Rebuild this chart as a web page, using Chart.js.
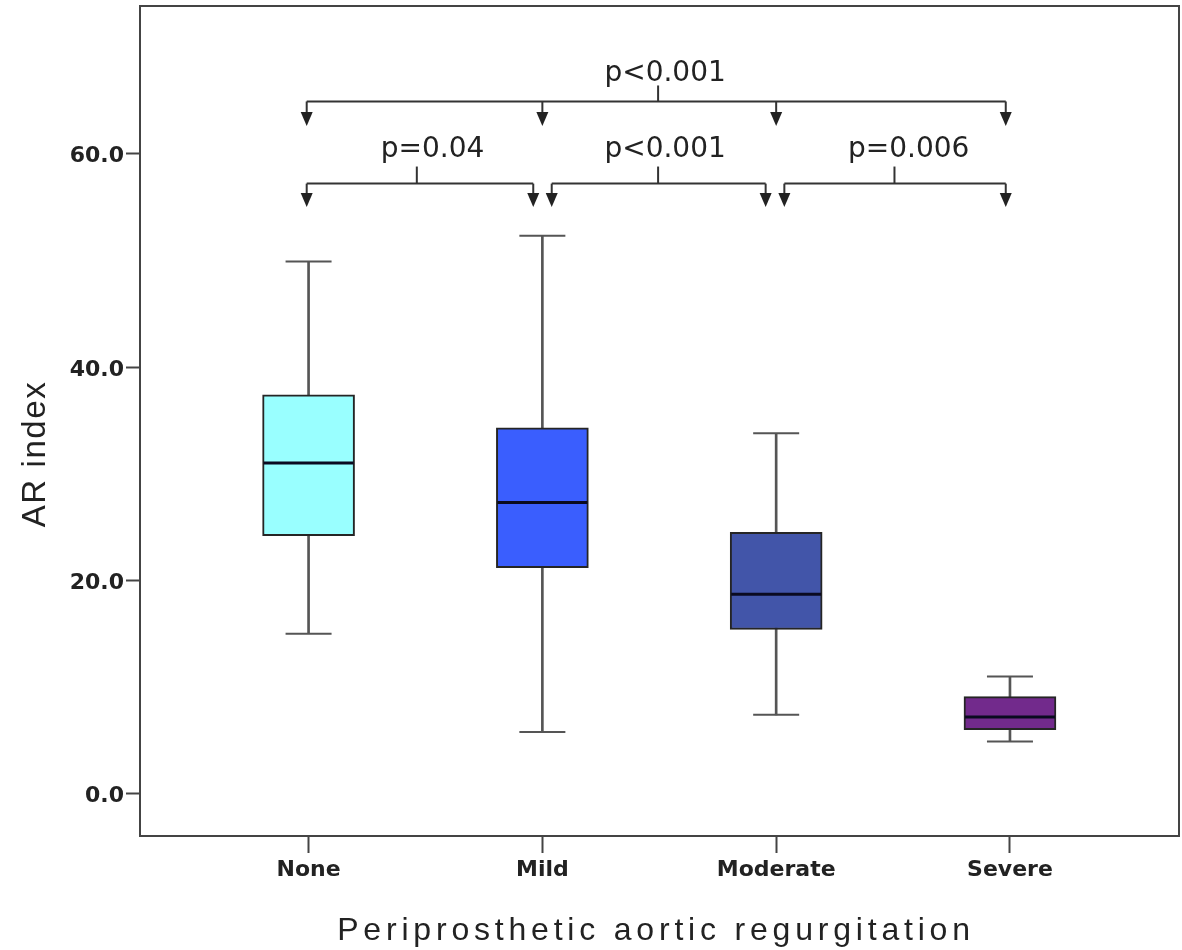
<!DOCTYPE html>
<html>
<head>
<meta charset="utf-8">
<title>AR index by periprosthetic aortic regurgitation</title>
<script src="https://cdn.jsdelivr.net/npm/chart.js@4/dist/chart.umd.min.js"></script>
<style>
  html, body { margin: 0; padding: 0; background: #fff; }
  #wrap { width: 1182px; height: 950px; position: relative; }
</style>
</head>
<body>
<div id="wrap"><canvas id="chart"></canvas></div>
<script>
// ---- Data ----
const categories = ["None", "Mild", "Moderate", "Severe"];
const whiskerLow = [15.0, 5.8, 7.4, 4.9];
const q1 = [24.2, 21.2, 15.4, 6.0];
const median = [31.0, 27.3, 18.7, 7.2];
const q3 = [37.4, 34.3, 24.5, 9.1];
const whiskerHigh = [49.9, 52.3, 33.8, 11.0];
const yTicks = [0, 20, 40, 60];

// ---- Significance brackets (x in category units, y in AR index units) ----
const bracketLabels = ["p<0.001", "p=0.04", "p<0.001", "p=0.006"];
const bracketDrops = [[0.992, 2, 3, 3.982], [0.992, 1.961], [2.04, 2.955], [3.035, 3.982]];
const bracketY = [64.9, 57.2, 57.2, 57.2];
const bracketTipY = [62.6, 55.0, 55.0, 55.0];
const bracketTickY = [66.4, 58.8, 58.8, 58.8];
const bracketMidX = [2.495, 1.463, 2.495, 3.506];
const bracketLabelX = [2.525, 1.530, 2.525, 3.567];
const bracketLabelY = [66.8, 59.7, 59.7, 59.7];

const boxColors = ["#99ffff", "#3a5efe", "#4255a9", "#722a8c"];
const lineColor = "#444";

// ---- Frame, brackets and axis titles ----
const annotations = {
    id: "annotations",
    beforeDatasetsDraw(chart) {
        const ctx = chart.ctx, a = chart.chartArea;
        ctx.save();
        ctx.strokeStyle = lineColor;
        ctx.lineWidth = 2;
        ctx.strokeRect(a.left, a.top, a.right - a.left, a.bottom - a.top);
        ctx.restore();
    },
    afterDraw(chart) {
        const ctx = chart.ctx;
        const x = chart.scales.x, y = chart.scales.y;
        ctx.save();
        ctx.strokeStyle = "#333";
        ctx.fillStyle = "#222";
        ctx.lineWidth = 2;

        bracketLabels.forEach((label, i) => {
            const drops = bracketDrops[i];
            const yl = y.getPixelForValue(bracketY[i]);
            const tip = y.getPixelForValue(bracketTipY[i]);
            // horizontal line
            ctx.beginPath();
            ctx.moveTo(x.getPixelForValue(drops[0]), yl);
            ctx.lineTo(x.getPixelForValue(drops[drops.length - 1]), yl);
            ctx.stroke();
            // arrows
            drops.forEach(d => {
                const px = x.getPixelForValue(d);
                ctx.beginPath();
                ctx.moveTo(px, yl);
                ctx.lineTo(px, tip - 12);
                ctx.stroke();
                ctx.beginPath();
                ctx.moveTo(px - 6, tip - 14);
                ctx.lineTo(px + 6, tip - 14);
                ctx.lineTo(px, tip);
                ctx.closePath();
                ctx.fill();
            });
            // centre tick
            const mx = x.getPixelForValue(bracketMidX[i]);
            ctx.beginPath();
            ctx.moveTo(mx, yl);
            ctx.lineTo(mx, y.getPixelForValue(bracketTickY[i]));
            ctx.stroke();
            // label
            ctx.font = "28px 'DejaVu Sans'";
            ctx.textAlign = "center";
            ctx.textBaseline = "alphabetic";
            ctx.fillText(label, x.getPixelForValue(bracketLabelX[i]), y.getPixelForValue(bracketLabelY[i]));
        });

        // axis titles
        ctx.fillStyle = "#222";
        ctx.font = "33px 'Liberation Sans'";
        ctx.letterSpacing = "1.6px";
        ctx.save();
        ctx.translate(45, 454);
        ctx.rotate(-Math.PI / 2);
        ctx.textAlign = "center";
        ctx.textBaseline = "alphabetic";
        ctx.fillText("AR index", 0, 0);
        ctx.restore();

        ctx.font = "32px 'Liberation Sans'";
        ctx.letterSpacing = "4.8px";
        ctx.textAlign = "center";
        ctx.textBaseline = "alphabetic";
        ctx.fillText("Periprosthetic aortic regurgitation", 656, 940);
        ctx.restore();
    }
};

const ctx = document.getElementById("chart").getContext("2d");

new Chart(ctx, {
    type: "bar",
    data: {
        datasets: [
            {
                label: "Whisker",
                data: categories.map((c, i) => ({ x: i + 1, y: [whiskerLow[i], whiskerHigh[i]] })),
                backgroundColor: "#555",
                borderWidth: 0,
                barThickness: 2,
                grouped: false,
                order: 3
            },
            {
                label: "Box",
                data: categories.map((c, i) => ({ x: i + 1, y: [q1[i], q3[i]] })),
                backgroundColor: boxColors,
                borderColor: "#252525",
                borderWidth: 2,
                borderSkipped: false,
                barThickness: 92,
                grouped: false,
                order: 2
            },
            {
                type: "scatter",
                label: "Caps",
                data: categories.flatMap((c, i) => [
                    { x: i + 1, y: whiskerLow[i] },
                    { x: i + 1, y: whiskerHigh[i] }
                ]),
                pointStyle: "line",
                pointRadius: 23,
                pointBorderWidth: 2,
                pointBorderColor: "#555",
                borderColor: "#555",
                order: 1
            },
            {
                type: "scatter",
                label: "Median",
                data: categories.map((c, i) => ({ x: i + 1, y: median[i] })),
                pointStyle: "line",
                pointRadius: 45,
                pointBorderWidth: 3,
                pointBorderColor: "#0a0a20",
                borderColor: "#0a0a20",
                order: 0
            }
        ]
    },
    options: {
        responsive: true,
        maintainAspectRatio: false,
        animation: false,
        events: [],
        layout: { autoPadding: false, padding: { top: 6, right: 3, left: 0, bottom: 0 } },
        plugins: {
            legend: { display: false },
            tooltip: { enabled: false }
        },
        scales: {
            x: {
                type: "linear",
                min: 0.279,
                max: 4.723,
                offset: false,
                afterBuildTicks: s => { s.ticks = categories.map((c, i) => ({ value: i + 1 })); },
                afterFit: s => { s.height = 114; s.paddingLeft = 0; s.paddingRight = 0; },
                ticks: {
                    callback: v => categories[Math.round(v) - 1],
                    font: { family: "'DejaVu Sans'", size: 22, weight: "bold" },
                    color: "#222",
                    padding: 4,
                    maxRotation: 0,
                    autoSkip: false
                },
                grid: {
                    offset: false,
                    drawOnChartArea: false,
                    tickLength: 17,
                    tickWidth: 2,
                    tickColor: lineColor
                },
                border: { display: true, color: lineColor, width: 2 }
            },
            y: {
                min: -3.96,
                max: 73.85,
                afterBuildTicks: s => { s.ticks = yTicks.map(v => ({ value: v })); },
                afterFit: s => { s.width = 140; s.paddingTop = 0; s.paddingBottom = 0; },
                ticks: {
                    callback: v => v.toFixed(1),
                    font: { family: "'DejaVu Sans'", size: 22, weight: "bold" },
                    color: "#222",
                    padding: 2,
                    labelOffset: 3
                },
                grid: {
                    drawOnChartArea: false,
                    tickLength: 14,
                    tickWidth: 2,
                    tickColor: lineColor
                },
                border: { display: true, color: lineColor, width: 2 }
            }
        }
    },
    plugins: [annotations]
});
</script>
</body>
</html>
